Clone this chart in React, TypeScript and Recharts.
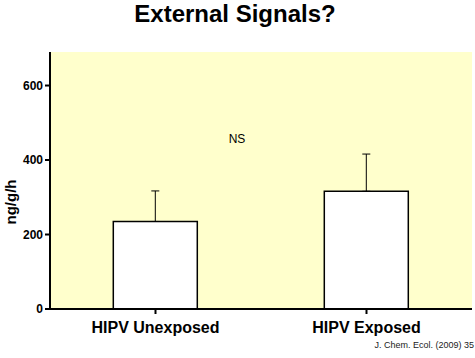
import React from 'react';
import { ComposedChart, Bar, XAxis, YAxis, ErrorBar, CartesianGrid } from 'recharts';

const categories = ['HIPV Unexposed', 'HIPV Exposed'];
const means = [235, 316];
const upperErrors = [82, 100];
const yTicks = [0, 200, 400, 600];

const data = categories.map((name, i) => ({
  name,
  value: means[i],
  err: [0, upperErrors[i]],
}));

const font = 'Liberation Sans, Arial, sans-serif';

export default function App() {
  return (
    <div style={{ position: 'absolute', left: 0, top: 0, width: 475, height: 358, background: '#fff', fontFamily: font }}>
      <ComposedChart
        width={475}
        height={358}
        data={data}
        margin={{ top: 52, right: 3, left: 0, bottom: 19 }}
        barCategoryGap="30%"
      >
        <CartesianGrid horizontal={false} vertical={false} fill="#FFFFCC" />
        <XAxis
          dataKey="name"
          height={30}
          axisLine={{ stroke: '#000', strokeWidth: 2 }}
          tickLine={{ stroke: '#000', strokeWidth: 2 }}
          tick={{ fill: '#000', fontSize: 16, fontWeight: 'bold', fontFamily: font }}
          tickSize={5}
          tickMargin={8}
          interval={0}
        />
        <XAxis xAxisId="top" orientation="top" dataKey="name" height={0} tick={false} tickLine={false} axisLine={{ stroke: '#000', strokeWidth: 1 }} />
        <YAxis
          domain={[0, 690]}
          ticks={yTicks}
          width={50}
          allowDataOverflow
          axisLine={{ stroke: '#000', strokeWidth: 2 }}
          tickLine={{ stroke: '#000', strokeWidth: 2 }}
          tickSize={5}
          tick={{ fill: '#000', fontSize: 12, fontWeight: 'bold', fontFamily: font }}
        />
        <YAxis yAxisId="right" orientation="right" width={0} tick={false} tickLine={false} axisLine={{ stroke: '#000', strokeWidth: 1 }} />
        <Bar dataKey="value" fill="#fff" stroke="#000" strokeWidth={1.5} isAnimationActive={false}>
          <ErrorBar dataKey="err" direction="y" width={4} stroke="#000" strokeWidth={1} />
        </Bar>
        <text x={235} y={22} textAnchor="middle" fontSize={24} fontWeight="bold" fontFamily={font} fill="#000">External Signals?</text>
        <text x={237} y={143} textAnchor="middle" fontSize={12} fontFamily={font} fill="#000">NS</text>
        <text x={0} y={0} transform="translate(16,202) rotate(-90)" textAnchor="middle" fontSize={15} fontWeight="bold" fontFamily={font} fill="#000">ng/g/h</text>
        <text x={474} y={348} textAnchor="end" fontSize={9} fontFamily={font} fill="#222">J. Chem. Ecol. (2009) 35</text>
      </ComposedChart>
    </div>
  );
}
